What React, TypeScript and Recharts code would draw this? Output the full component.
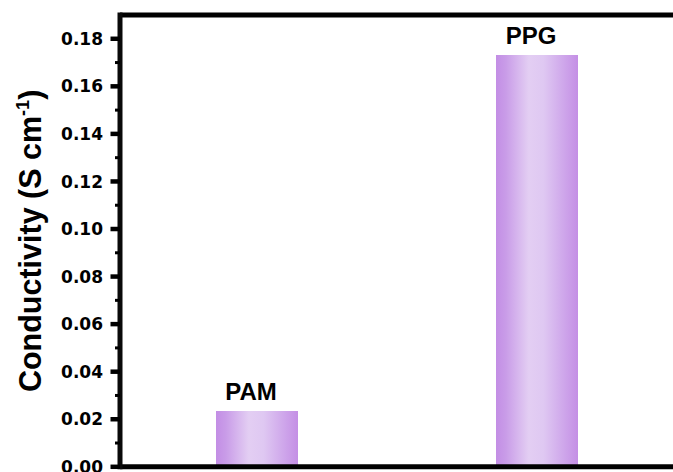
import React from 'react';
import { BarChart, Bar, XAxis, YAxis, LabelList } from 'recharts';

const categories = ['PAM', 'PPG'];
const conductivity = [0.0235, 0.1732];
const majorTicks = [0, 0.02, 0.04, 0.06, 0.08, 0.1, 0.12, 0.14, 0.16, 0.18];
const minorTicks = [0.01, 0.03, 0.05, 0.07, 0.09, 0.11, 0.13, 0.15, 0.17];
const yDomain: [number, number] = [0, 0.19];
const yLabel = 'Conductivity (S cm';
const yLabelSup = '-1';

const data = categories.map((name, i) => ({ name, value: conductivity[i] }));
const allTicks = [...majorTicks, ...minorTicks].sort((a, b) => a - b);

const isMajor = (v: number) => majorTicks.some((t) => Math.abs(t - v) < 1e-9);

const renderYTick = (props: any) => {
  const { x, y, payload } = props;
  const v = payload.value as number;
  if (isMajor(v)) {
    return (
      <g>
        <line x1={x - 9.5} x2={x} y1={y} y2={y} stroke="#000" strokeWidth={4.5} />
        <text
          x={x - 17}
          y={y}
          dy="0.36em"
          textAnchor="end"
          fontFamily="'DejaVu Sans', sans-serif"
          fontWeight="bold"
          fontSize={17}
          fill="#000"
        >
          {v.toFixed(2)}
        </text>
      </g>
    );
  }
  return <line x1={x - 5} x2={x} y1={y} y2={y} stroke="#000" strokeWidth={3} />;
};

const renderYLabel = (props: any) => {
  const vb = props.viewBox || {};
  const cx = 41;
  const cy = (vb.y ?? 15) + (vb.height ?? 452) / 2;
  return (
    <text
      x={cx}
      y={cy}
      textAnchor="middle"
      transform={`rotate(-90, ${cx}, ${cy})`}
      fontFamily="'Liberation Sans', Arial, sans-serif"
      fontWeight="bold"
      fontSize={30.5}
      fill="#000"
    >
      {yLabel}
      <tspan fontSize={18} dy={-12}>{yLabelSup}</tspan>
      <tspan dy={12}>)</tspan>
    </text>
  );
};

const renderBarLabel = (props: any) => {
  const { x, y, width, value } = props;
  return (
    <text
      x={x + width / 2 - 6}
      y={y - 11}
      textAnchor="middle"
      fontFamily="'Liberation Sans', Arial, sans-serif"
      fontWeight="bold"
      fontSize={24}
      fill="#000"
    >
      {value}
    </text>
  );
};

export default function App() {
  return (
    <div
      style={{
        position: 'fixed',
        left: 0,
        top: 0,
        width: 673,
        height: 472,
        overflow: 'hidden',
        background: '#fff',
      }}
    >
      <BarChart
        width={673}
        height={520}
        data={data}
        margin={{ top: 14, right: 0, bottom: 52.2, left: 0 }}
      >
        <defs>
          <linearGradient id="barGrad" x1="0" y1="0" x2="1" y2="0">
            <stop offset="0%" stopColor="#c38ee5" />
            <stop offset="12%" stopColor="#c99ce8" />
            <stop offset="40%" stopColor="#e3cef3" />
            <stop offset="58%" stopColor="#dfc8f2" />
            <stop offset="85%" stopColor="#cda3ea" />
            <stop offset="100%" stopColor="#c48fe5" />
          </linearGradient>
        </defs>
        <XAxis
          dataKey="name"
          height={1}
          tick={false}
          tickLine={false}
          padding={{ left: -3, right: -4 }}
          axisLine={{ stroke: '#000', strokeWidth: 5 }}
        />
        <XAxis
          xAxisId="top"
          orientation="top"
          dataKey="name"
          height={1}
          tick={false}
          tickLine={false}
          axisLine={{ stroke: '#000', strokeWidth: 5 }}
        />
        <YAxis
          width={120}
          domain={yDomain}
          ticks={allTicks}
          interval={0}
          tickSize={0}
          tickMargin={0}
          tickLine={false}
          tick={renderYTick}
          axisLine={{ stroke: '#0a0a0a', strokeWidth: 5, strokeLinecap: 'square' }}
          label={{ content: renderYLabel }}
        />
        <Bar dataKey="value" barSize={82} fill="url(#barGrad)" isAnimationActive={false}>
          <LabelList dataKey="name" content={renderBarLabel} />
        </Bar>
      </BarChart>
    </div>
  );
}
